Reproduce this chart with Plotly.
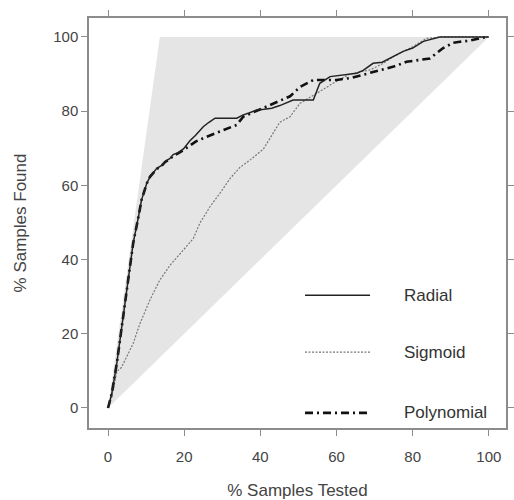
import plotly.graph_objects as go

# Shaded region: perfect model vs random
region_x = [0, 13.6, 100, 0]
region_y = [0, 100, 100, 0]

radial_x = [0, 1.0, 2.3, 4.0, 5.3, 6.6, 8.0, 8.8, 10.2, 11.0, 12.8, 14.0, 15.0, 16.2, 17.1, 18.4, 19.8,
            21.5, 23.0, 25.0, 26.5, 28.1, 33.8, 35.5, 37.0, 39.0, 41.0, 43.0, 45.1, 48.6, 53.9,
            55.6, 58.3, 62.0, 65.3, 67.0, 69.6, 72.0, 74.0, 77.5, 80.0, 82.8, 87.1, 92.0, 96.0, 100]
radial_y = [0, 4.0, 12.0, 24.6, 35.4, 44.4, 51.6, 56.1, 60.6, 62.3, 64.6, 65.3, 66.5, 67.2, 68.3, 68.8, 69.8,
            72.0, 73.5, 75.8, 77.0, 78.1, 78.1, 79.0, 79.5, 80.3, 80.5, 80.8, 81.5, 83.0, 83.0,
            87.5, 89.3, 89.8, 90.2, 91.0, 92.9, 93.2, 94.2, 96.1, 97.0, 98.8, 100, 100, 100, 100]

sigmoid_x = [0, 1.0, 2.3, 3.5, 4.9, 6.6, 8.4, 11.0, 13.6, 16.3, 19.8, 22.4, 24.1, 26.8, 29.4, 32.0, 34.6,
             37.5, 40.8, 43.0, 45.1, 47.8, 50.4, 54.8, 59.1, 63.5, 68.8, 72.3, 74.9, 80.1, 83.6, 88.0, 94.0, 100]
sigmoid_y = [0, 3.0, 9.8, 10.9, 13.8, 17.4, 22.8, 29.1, 34.5, 38.5, 42.6, 45.7, 49.8, 54.3, 57.9, 61.8, 64.8,
             67.0, 69.8, 73.5, 77.0, 78.5, 82.1, 84.8, 87.5, 90.0, 91.1, 92.9, 94.7, 97.4, 99.6, 100, 100, 100]

poly_x = [0, 1.0, 2.3, 4.0, 5.3, 6.6, 8.0, 8.8, 10.2, 11.0, 12.8, 14.0, 15.0, 16.2, 17.1, 18.4, 19.8,
          21.5, 23.0, 25.9, 30.3, 33.8, 35.5, 38.0, 40.8, 45.1, 47.8, 50.4, 53.9, 57.0, 60.0,
          64.0, 67.0, 69.5, 72.3, 75.0, 78.4, 81.0, 84.5, 88.0, 90.6, 92.4, 95.0, 99.4, 100]
poly_y = [0, 4.0, 12.0, 24.6, 35.4, 44.4, 51.6, 56.1, 60.6, 62.3, 64.4, 65.2, 66.3, 67.0, 68.0, 68.6, 69.5,
          70.8, 71.8, 73.1, 74.9, 76.3, 78.5, 79.6, 80.8, 82.6, 84.0, 86.5, 88.4, 88.4, 88.4,
          89.0, 89.8, 90.5, 91.1, 92.0, 93.3, 93.6, 94.2, 97.0, 98.4, 98.7, 99.0, 100, 100]

x_ticks = [0, 20, 40, 60, 80, 100]
y_ticks = [0, 20, 40, 60, 80, 100]

series_names = ["Radial", "Sigmoid", "Polynomial"]

FONT = "Liberation Sans, Arial, sans-serif"
FRAME = "#8c8c8c"

fig = go.Figure()
fig.add_trace(go.Scatter(x=region_x, y=region_y, fill="toself", fillcolor="#e5e5e5",
                         line=dict(width=0), mode="lines", hoverinfo="skip", showlegend=False))

styles = {
    "Radial": dict(color="#222222", width=1.5, dash="solid"),
    "Sigmoid": dict(color="#777777", width=1.2, dash="2px,1.5px"),
    "Polynomial": dict(color="#111111", width=2.6, dash="8px,4px,2px,4px"),
}
data = {"Radial": (radial_x, radial_y), "Sigmoid": (sigmoid_x, sigmoid_y), "Polynomial": (poly_x, poly_y)}
for name in ["Sigmoid", "Polynomial", "Radial"]:
    xs, ys = data[name]
    fig.add_trace(go.Scatter(x=xs, y=ys, mode="lines", name=name, line=styles[name], showlegend=False))

# manual legend (inside plot, bottom right)
leg_y = [0.324, 0.185, 0.037]
shapes = []
annotations = []
for name, yy in zip(series_names, leg_y):
    s = styles[name]
    shapes.append(dict(type="line", xref="paper", yref="paper", x0=0.518, x1=0.674, y0=yy, y1=yy,
                       line=dict(color=s["color"], width=s["width"], dash=s["dash"])))
    annotations.append(dict(text=name, xref="paper", yref="paper", x=0.751, y=yy, xanchor="left",
                            yanchor="middle", showarrow=False,
                            font=dict(family=FONT, size=17, color="#333333")))

fig.update_layout(
    width=514, height=500,
    margin=dict(l=89, r=8, t=18, b=72),
    paper_bgcolor="white", plot_bgcolor="white",
    font=dict(family=FONT, size=15, color="#444444"),
    shapes=shapes, annotations=annotations,
)
fig.update_xaxes(range=[-5.0, 104.5], tickvals=x_ticks, ticks="outside", ticklen=6, tickwidth=1.2,
                 tickcolor=FRAME, showline=True, linecolor=FRAME, linewidth=1.5, mirror="ticks",
                 showgrid=False, zeroline=False, ticklabelstandoff=8, automargin=False,
                 title=dict(text="% Samples Tested", font=dict(size=17, color="#444444"), standoff=20))
fig.update_yaxes(range=[-5.4, 105.1], tickvals=y_ticks, ticks="outside", ticklen=6, tickwidth=1.2,
                 tickcolor=FRAME, showline=True, linecolor=FRAME, linewidth=1.5, mirror="ticks",
                 showgrid=False, zeroline=False, automargin=False,
                 title=dict(text="% Samples Found", font=dict(size=17, color="#444444"), standoff=22))

fig.write_html("out.html")
